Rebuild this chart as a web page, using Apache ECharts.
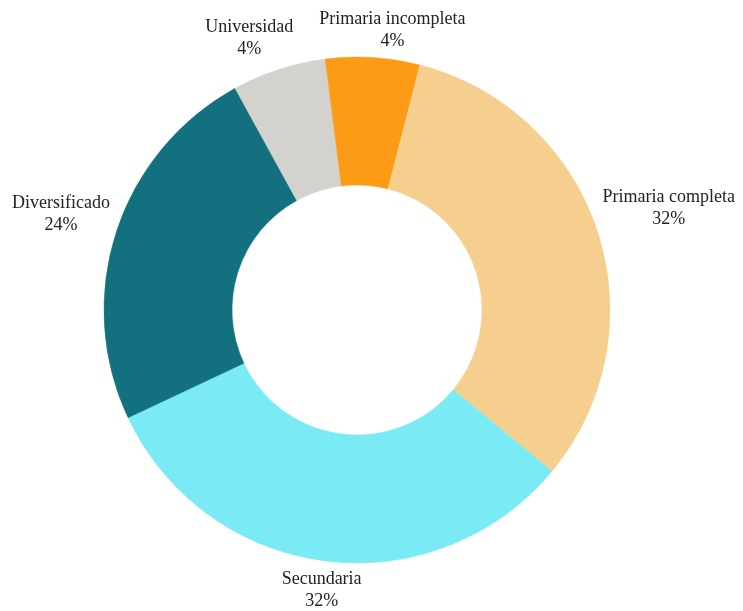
<!DOCTYPE html>
<html lang="es">
<head>
    <meta charset="UTF-8">
    <title>Nivel educativo</title>
    <script src="https://cdn.jsdelivr.net/npm/echarts@6/dist/echarts.min.js"></script>
    <style type="text/css">
        html, body, #main {
            height: 100%;
            width: 100%;
            margin: 0;
            padding: 0;
            background: #fff;
        }
    </style>
</head>
<body>
<div id="main"></div>
<script>
    // slices clockwise from the top; the last two are thin unlabelled pieces
    var categories = ['Primaria incompleta', 'Primaria completa', 'Secundaria', 'Diversificado', 'Universidad', 'Universidad (b)', 'Primaria incompleta (b)'];
    var values = [4, 32, 32, 24, 4, 2, 2];
    var showLabel = [true, true, true, true, true, false, false];
    var colors = ['#FD9B17', '#F6CF8E', '#7AEBF5', '#13717F', '#D3D2CD', '#D3D2CD', '#FD9B17'];

    var cx = 357, cy = 310, rOut = 253, rIn = 125, gap = 5;
    var total = values.reduce(function (a, b) { return a + b; }, 0);

    // mid angle of every slice, measured clockwise from the top
    var midAngles = [];
    var cum = 0;
    values.forEach(function (v) {
        midAngles.push((cum + v / 2) / total * Math.PI * 2);
        cum += v;
    });

    // place a label box centred on the mid-angle ray, just clear of the ring
    function placeLabel(angle, w, h) {
        var ux = Math.sin(angle), uy = -Math.cos(angle);
        var lo = rOut, hi = rOut + 200;
        for (var k = 0; k < 40; k++) {
            var d = (lo + hi) / 2;
            var bx = d * ux, by = d * uy;
            var nx = Math.max(bx - w / 2, Math.min(0, bx + w / 2));
            var ny = Math.max(by - h / 2, Math.min(0, by + h / 2));
            if (Math.sqrt(nx * nx + ny * ny) < rOut + gap) lo = d; else hi = d;
        }
        return [cx + hi * ux, cy + hi * uy];
    }

    var data = categories.map(function (name, i) {
        return {
            name: name,
            value: values[i],
            itemStyle: {color: colors[i], borderColor: colors[i], borderWidth: 0.5},
            label: {show: showLabel[i]}
        };
    });

    var myChart = echarts.init(document.getElementById('main'));
    var option = {
        animation: false,
        series: [
            {
                type: 'pie',
                center: [cx, cy],
                radius: [rIn, rOut],
                startAngle: 90,
                clockwise: true,
                avoidLabelOverlap: false,
                data: data,
                emphasis: {disabled: true},
                label: {
                    position: 'outside',
                    formatter: '{b}\n{c}%',
                    fontFamily: 'Liberation Serif',
                    fontSize: 18,
                    lineHeight: 22,
                    color: '#222'
                },
                labelLine: {show: false, length: 10, length2: 0},
                labelLayout: function (params) {
                    var r = params.labelRect;
                    var p = placeLabel(midAngles[params.dataIndex], r.width, r.height);
                    return {x: p[0], y: p[1], align: 'center', verticalAlign: 'middle'};
                }
            }
        ]
    };
    myChart.setOption(option);
</script>
</body>
</html>
